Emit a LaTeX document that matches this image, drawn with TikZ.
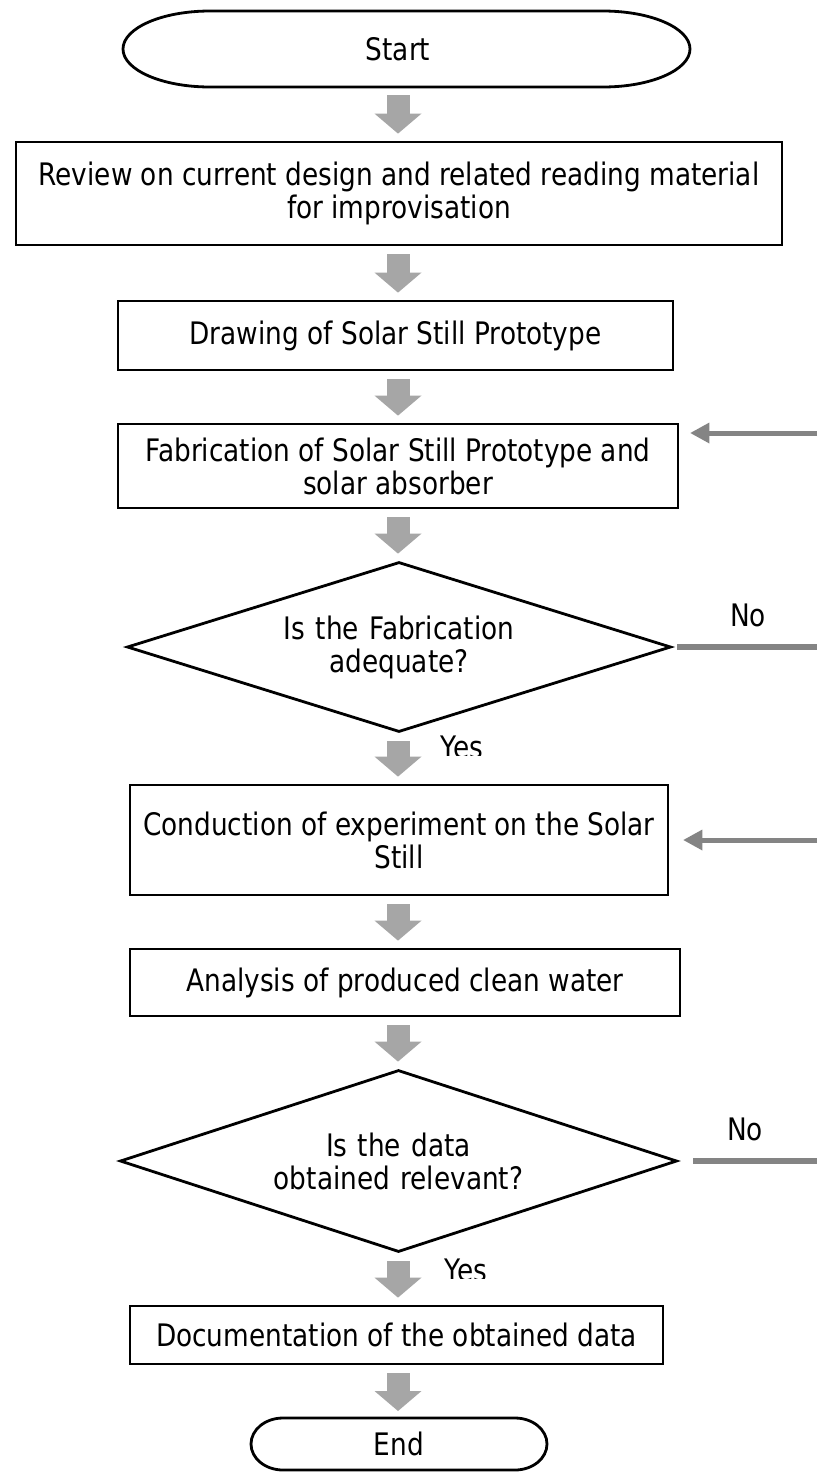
\documentclass[tikz,border=0pt]{standalone}
\usepackage{fontspec}
\setmainfont{DejaVu Sans}[FakeStretch=0.85]
\usetikzlibrary{arrows.meta,shapes.geometric,calc}
\definecolor{fatgray}{HTML}{A6A6A6}
\definecolor{sidegray}{HTML}{848484}
\tikzset{
  txt/.style={font=\fontsize{31}{33}\selectfont},
  box/.style={txt, draw=black, line width=2.8pt, inner sep=0pt, align=center},
  decision/.style={txt, diamond, draw=black, line width=2.8pt, inner sep=0pt,
    align=center, text width=270pt, shape aspect=3.2},
  termnode/.style={txt, inner sep=0pt, outer sep=0pt},
  term/.style={draw=black, line width=2.8pt},
  fatarrow/.style={draw=fatgray, line width=23pt,
    -{Triangle[length=20pt,width=47pt,line width=0pt 0 0]},
    shorten <=8pt, shorten >=7pt},
  sidearrow/.style={draw=sidegray, line width=5pt,
    -{Triangle[length=19pt,width=21pt,line width=0pt 0 0]}},
  sideline/.style={draw=sidegray, line width=5.5pt},
  lbl/.style={txt, inner sep=0pt},
}
\begin{document}
\begin{tikzpicture}[x=1pt,y=1pt]
\fill[white] (0,0) rectangle (817,-1473);
\clip (0,0) rectangle (817,-1473);
\useasboundingbox (0,0) rectangle (817,-1473);
\coordinate (col) at (398,0);

% Start
\node[termnode, minimum width=567pt, minimum height=76pt] (st) at (406.5,-49) {\hspace*{-17pt}Start};
\draw[term] ([xshift=87pt]st.north west) -- ([xshift=-87pt]st.north east)
  arc[start angle=90,end angle=-90,x radius=87pt,y radius=38pt]
  -- ([xshift=87pt]st.south west)
  arc[start angle=270,end angle=90,x radius=87pt,y radius=38pt] -- cycle;

\node[box, minimum width=766pt, minimum height=103pt] (b1) at (399,-193.5)
  {Review on current design and related reading material\\for improvisation};
\node[box, minimum width=555pt, minimum height=69pt] (b2) at (395.5,-335.5)
  {Drawing of Solar Still Prototype};
\node[box, minimum width=560pt, minimum height=84pt] (b3) at (398,-466)
  {Fabrication of Solar Still Prototype and\\solar absorber};
\node[decision, minimum width=544pt, minimum height=170pt] (d1) at (399,-647)
  {Is the Fabrication\\adequate?};
\node[box, minimum width=538pt, minimum height=110pt] (b4) at (399,-840)
  {Conduction of experiment on the Solar\\Still};
\node[box, minimum width=550pt, minimum height=67pt] (b5) at (405,-982.5)
  {Analysis of produced clean water};
\node[decision, minimum width=557pt, minimum height=182pt] (d2) at (398.5,-1161)
  {Is the data\\obtained relevant?};
\node[box, minimum width=533pt, minimum height=58pt] (b6) at (396.5,-1335)
  {Documentation of the obtained data};

% End
\node[termnode, minimum width=296pt, minimum height=52pt] (en) at (399,-1444) {End};
\draw[term] ([xshift=32pt]en.north west) -- ([xshift=-32pt]en.north east)
  arc[start angle=90,end angle=-90,x radius=32pt,y radius=26pt]
  -- ([xshift=32pt]en.south west)
  arc[start angle=270,end angle=90,x radius=32pt,y radius=26pt] -- cycle;

% main flow arrows
\draw[fatarrow] (st.south -| col) -- (b1.north -| col);
\draw[fatarrow] (b1.south -| col) -- (b2.north -| col);
\draw[fatarrow] (b2.south -| col) -- (b3.north -| col);
\draw[fatarrow] (b3.south -| col) -- (d1.north -| col);
\draw[fatarrow] (d1.south -| col) -- (b4.north -| col);
\draw[fatarrow] (b4.south -| col) -- (b5.north -| col);
\draw[fatarrow] (b5.south -| col) -- (d2.north -| col);
\draw[fatarrow] (d2.south -| col) -- (b6.north -| col);
\draw[fatarrow] (b6.south -| col) -- (en.north -| col);

% labels (the Yes labels are cut off at the bottom, as in the original)
\node[lbl] (no1) at (748,-615) {No};
\node[lbl] (no2) at (745,-1129) {No};
\begin{scope}
  \clip (420,-720) rectangle (515,-755);
  \node[lbl, anchor=base] (yes1) at (462,-758) {Yes};
\end{scope}
\begin{scope}
  \clip (420,-1240) rectangle (520,-1278);
  \node[lbl, anchor=base] (yes2) at (466,-1281) {Yes};
\end{scope}

% side connectors (loop lines leave the picture on the right)
\coordinate (r1) at (817,-433);
\coordinate (r2) at (817,-647);
\coordinate (r3) at (817,-840);
\coordinate (r4) at (817,-1161);
\draw[sidearrow, shorten >=11pt] (r1) -- (b3.east |- r1);
\draw[sideline, shorten <=5pt] (d1.east) -- (r2);
\draw[sidearrow, shorten >=14pt] (r3) -- (b4.east |- r3);
\draw[sideline, shorten <=15pt] (d2.east) -- (r4);
\end{tikzpicture}
\end{document}
